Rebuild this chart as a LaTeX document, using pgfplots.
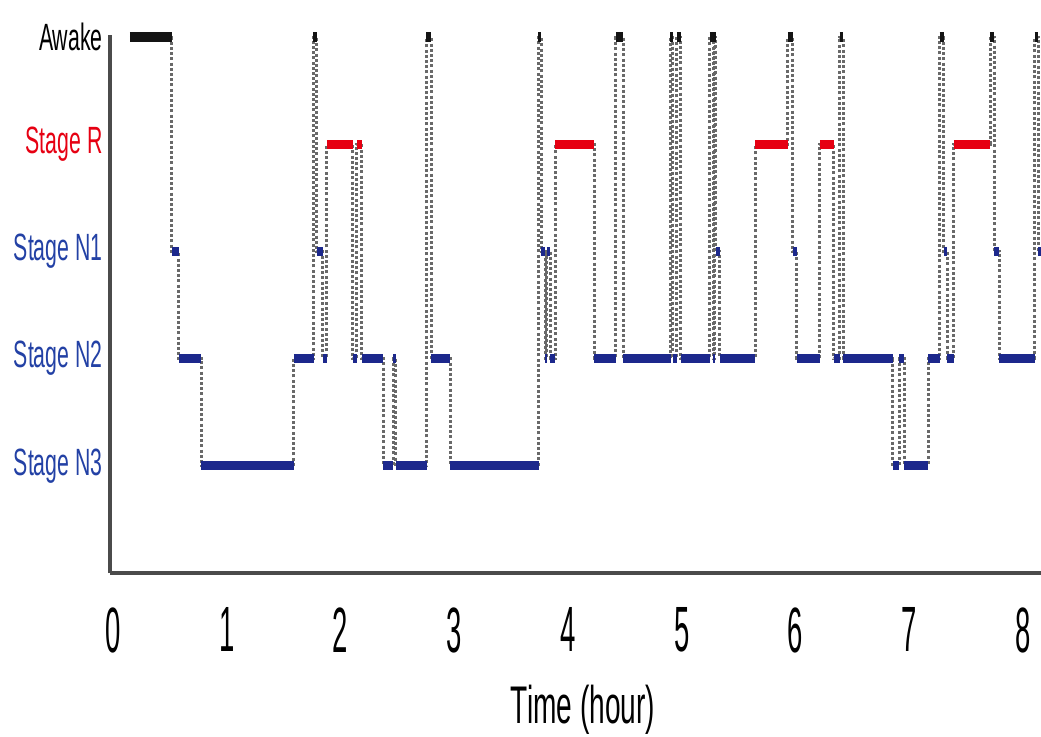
\documentclass[border=0pt]{standalone}
\usepackage{fontspec}
\setmainfont{Liberation Sans}
\usepackage{pgfplots}
\pgfplotsset{compat=1.18}
\definecolor{wakeblack}{RGB}{20,20,20}
\definecolor{remred}{RGB}{230,0,18}
\definecolor{nrembar}{RGB}{28,40,140}
\definecolor{nremlab}{RGB}{35,65,165}
\definecolor{stepgray}{RGB}{105,105,105}
\definecolor{axisgray}{RGB}{75,75,75}

% stage codes: 5 Awake, 4 R, 3 N1, 2 N2, 1 N3
\begin{document}
\begin{tikzpicture}
\begin{axis}[
  scale only axis, width=465.5pt, height=269pt,
  xmin=-0.026, xmax=8.158, ymin=0, ymax=5.02,
  clip=false,
  axis x line*=bottom, axis y line*=left,
  axis line style={-, axisgray, line width=1.6pt},
  tick style={draw=none}, major tick length=0pt,
  xtick={0,...,8},
  xticklabels={
    \scalebox{0.43}[1]{0},\scalebox{0.43}[1]{1},\scalebox{0.43}[1]{2},
    \scalebox{0.43}[1]{3},\scalebox{0.43}[1]{4},\scalebox{0.43}[1]{5},
    \scalebox{0.43}[1]{6},\scalebox{0.43}[1]{7},\scalebox{0.43}[1]{8}},
  xticklabel style={inner sep=0pt, anchor=north, yshift=-17pt,
    font=\fontsize{32pt}{32pt}\selectfont},
  ytick={1,2,3,4,5},
  yticklabels={
    \textcolor{nremlab}{\scalebox{0.56}[1]{Stage N3}},
    \textcolor{nremlab}{\scalebox{0.56}[1]{Stage N2}},
    \textcolor{nremlab}{\scalebox{0.56}[1]{Stage N1}},
    \textcolor{remred}{\scalebox{0.56}[1]{Stage R}},
    \textcolor{black}{\scalebox{0.56}[1]{Awake}}},
  yticklabel style={inner sep=0pt, anchor=east, xshift=-3.5pt,
    font=\fontsize{19pt}{19pt}\selectfont},
  xlabel={\scalebox{0.53}[1]{Time (hour)}},
  xlabel style={font=\fontsize{26.5pt}{26.5pt}\selectfont,
    at={(axis description cs:0.508,0)}, anchor=north, inner sep=0pt, yshift=-56pt},
  unbounded coords=jump,
]
% transitions
\addplot[const plot, stepgray, line width=1.5pt, dash pattern=on 1.5pt off 1.1pt] coordinates {
 (0.149,5)(0.519,3)(0.580,2)(0.774,1)(1.591,2)(1.767,5)(1.793,3)(1.846,2)
 (1.881,4)(2.110,2)(2.145,4)(2.189,2)(2.374,1)(2.462,2)(2.488,1)(2.760,5)
 (2.796,2)(2.963,1)(3.745,5)(3.763,3)(3.798,2)(3.815,3)(3.842,2)(3.886,4)
 (4.229,2)(4.422,5)(4.484,2)(4.905,5)(4.923,2)(4.958,5)(4.993,2)(5.248,5)
 (5.275,2)(5.292,5)(5.301,3)(5.336,2)(5.644,4)(5.934,5)(5.978,3)(6.013,2)
 (6.215,4)(6.338,2)(6.391,5)(6.418,2)(6.857,1)(6.910,2)(6.954,1)(7.165,2)
 (7.270,5)(7.305,3)(7.332,2)(7.393,4)(7.710,5)(7.745,3)(7.789,2)(8.105,5)
 (8.132,3)(8.158,3)
};
% Awake
\addplot[wakeblack, line width=5pt] coordinates {
 (0.149,5)(0.519,5) (0.52,nan)
 (1.762,5)(1.793,5) (1.8,nan)
 (2.755,5)(2.796,5) (2.8,nan)
 (3.740,5)(3.765,5) (3.8,nan)
 (4.422,5)(4.484,5) (4.5,nan)
 (4.900,5)(4.925,5) (4.93,nan)
 (4.958,5)(4.993,5) (5.0,nan)
 (5.245,5)(5.301,5) (5.31,nan)
 (5.934,5)(5.978,5) (5.98,nan)
 (6.388,5)(6.418,5) (6.42,nan)
 (7.268,5)(7.305,5) (7.31,nan)
 (7.708,5)(7.745,5) (7.75,nan)
 (8.102,5)(8.132,5)
};
% Stage R
\addplot[remred, line width=4.5pt] coordinates {
 (1.881,4)(2.110,4) (2.12,nan)
 (2.145,4)(2.189,4) (2.19,nan)
 (3.886,4)(4.229,4) (4.23,nan)
 (5.644,4)(5.934,4) (5.94,nan)
 (6.215,4)(6.338,4) (6.34,nan)
 (7.393,4)(7.710,4)
};
% Stage N1
\addplot[nrembar, line width=4.5pt] coordinates {
 (0.519,3)(0.580,3) (0.59,nan)
 (1.793,3)(1.846,3) (1.85,nan)
 (3.763,3)(3.798,3) (3.80,nan)
 (3.815,3)(3.842,3) (3.85,nan)
 (5.301,3)(5.336,3) (5.34,nan)
 (5.978,3)(6.013,3) (6.02,nan)
 (7.305,3)(7.332,3) (7.34,nan)
 (7.745,3)(7.789,3) (7.79,nan)
 (8.132,3)(8.158,3)
};
% Stage N2
\addplot[nrembar, line width=4.5pt] coordinates {
 (0.580,2)(0.774,2) (0.78,nan)
 (1.591,2)(1.767,2) (1.77,nan)
 (1.846,2)(1.881,2) (1.89,nan)
 (2.110,2)(2.145,2) (2.15,nan)
 (2.189,2)(2.374,2) (2.38,nan)
 (2.462,2)(2.488,2) (2.49,nan)
 (2.796,2)(2.963,2) (2.97,nan)
 (3.798,2)(3.815,2) (3.82,nan)
 (3.842,2)(3.886,2) (3.89,nan)
 (4.229,2)(4.422,2) (4.43,nan)
 (4.484,2)(4.905,2) (4.91,nan)
 (4.923,2)(4.958,2) (4.96,nan)
 (4.993,2)(5.248,2) (5.25,nan)
 (5.275,2)(5.292,2) (5.30,nan)
 (5.336,2)(5.644,2) (5.65,nan)
 (6.013,2)(6.215,2) (6.22,nan)
 (6.338,2)(6.391,2) (6.40,nan)
 (6.418,2)(6.857,2) (6.86,nan)
 (6.910,2)(6.954,2) (6.96,nan)
 (7.165,2)(7.270,2) (7.28,nan)
 (7.332,2)(7.393,2) (7.40,nan)
 (7.789,2)(8.105,2)
};
% Stage N3
\addplot[nrembar, line width=4.5pt] coordinates {
 (0.774,1)(1.591,1) (1.60,nan)
 (2.374,1)(2.462,1) (2.47,nan)
 (2.488,1)(2.760,1) (2.77,nan)
 (2.963,1)(3.745,1) (3.75,nan)
 (6.857,1)(6.910,1) (6.92,nan)
 (6.954,1)(7.165,1)
};
\coordinate (O) at (rel axis cs:0,0);
\end{axis}
\pgfresetboundingbox
\path (O) ++(-55pt,-81.5pt) rectangle ++(520.5pt,368pt);
\end{tikzpicture}
\end{document}
